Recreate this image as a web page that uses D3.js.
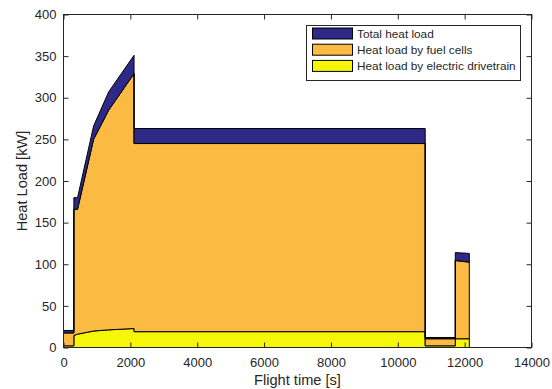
<!DOCTYPE html>
<html><head><meta charset="utf-8">
<script src="https://cdn.jsdelivr.net/npm/d3@7"></script>
<style>
body{margin:0;background:#fff}
text{font-family:"Liberation Sans",Arial,Helvetica,sans-serif;fill:#262626}
</style>
</head><body><svg id="c" width="552" height="389"></svg>
<script>
// Flight time [s] (duplicated instants give the vertical steps)
const time       = [0,    310,  310,   420,   900,   1350,  2110,  2110,  10820, 10820, 11720, 11720, 12140];
// Heat load by electric drivetrain [kW]
const drivetrain = [2,    2,    14.5,  16,    19.8,  21.2,  22.8,  19,    19,    2,     2,     10.5,  10.5];
// Heat load by fuel cells [kW]
const fuelCells  = [15.5, 15.5, 151.5, 150,   230.2, 263.8, 306.2, 226,   226,   8.5,   8.5,   94,    92];
// Total heat load [kW]
const totalLoad  = [20.5, 20.5, 180,   180,   266,   307,   351,   263,   263,   12,    12,    114,   113];

const xTicks = [0,2000,4000,6000,8000,10000,12000,14000];
const yTicks = [0,50,100,150,200,250,300,350,400];
const legendLabels = ["Total heat load","Heat load by fuel cells","Heat load by electric drivetrain"];
const layerColors  = ["#2E2986","#FBBA42","#F6F608"];

const svg = d3.select("#c");
const L = 63.5, R = 531.5, T = 14.5, B = 347.5;
const x = d3.scaleLinear().domain([0,14000]).range([L,R]);
const y = d3.scaleLinear().domain([0,400]).range([B,T]);

// stacked layers: drivetrain, fuel cells on top, remainder up to total
const rows = time.map((t,i)=>({t, dt:drivetrain[i], fc:drivetrain[i]+fuelCells[i], tot:totalLoad[i]}));
const layers = [
  {lo:d=>0,     hi:d=>d.dt,  color:layerColors[2]},
  {lo:d=>d.dt,  hi:d=>d.fc,  color:layerColors[1]},
  {lo:d=>d.fc,  hi:d=>d.tot, color:layerColors[0]}
];
layers.forEach(Ly=>{
  const area = d3.area().x(d=>x(d.t)).y0(d=>y(Ly.lo(d))).y1(d=>y(Ly.hi(d)));
  svg.append("path").attr("d",area(rows)).attr("fill",Ly.color)
     .attr("stroke","#000").attr("stroke-width",1).attr("stroke-linejoin","miter");
});

// axes
const tk = 5;
const gx = svg.append("g").attr("transform",`translate(0,${B})`)
  .call(d3.axisBottom(x).tickValues(xTicks).tickFormat(d3.format("d")).tickSizeInner(-tk).tickSizeOuter(0).tickPadding(10));
const gxt = svg.append("g").attr("transform",`translate(0,${T})`)
  .call(d3.axisTop(x).tickValues(xTicks).tickFormat("").tickSizeInner(-tk).tickSizeOuter(0));
const gy = svg.append("g").attr("transform",`translate(${L},0)`)
  .call(d3.axisLeft(y).tickValues(yTicks).tickFormat(d3.format("d")).tickSizeInner(-tk).tickSizeOuter(0).tickPadding(7));
const gyr = svg.append("g").attr("transform",`translate(${R},0)`)
  .call(d3.axisRight(y).tickValues(yTicks).tickFormat("").tickSizeInner(-tk).tickSizeOuter(0));
[gx,gxt,gy,gyr].forEach(g=>{
  g.select(".domain").remove();
  g.selectAll(".tick line").attr("stroke","#262626");
  g.selectAll("text").attr("font-size","13px").attr("fill","#262626")
   .attr("font-family","'Liberation Sans',Arial,sans-serif");
});
svg.append("rect").attr("x",L).attr("y",T).attr("width",R-L).attr("height",B-T)
  .attr("fill","none").attr("stroke","#262626").attr("stroke-width",1);

// axis labels
svg.append("text").attr("x",(L+R)/2).attr("y",385).attr("text-anchor","middle")
  .attr("font-size","14.6px").text("Flight time [s]");
svg.append("text").attr("transform",`translate(27,${(T+B)/2}) rotate(-90)`).attr("text-anchor","middle")
  .attr("font-size","14.6px").text("Heat Load [kW]");

// legend
const lg = svg.append("g");
lg.append("rect").attr("x",306.5).attr("y",25.5).attr("width",214).attr("height",55)
  .attr("fill","#fff").attr("stroke","#262626").attr("stroke-width",1);
legendLabels.forEach((lab,i)=>{
  const cy = 33.5 + i*16.2;
  lg.append("rect").attr("x",312.5).attr("y",cy-5.5).attr("width",40).attr("height",11)
    .attr("fill",layerColors[i]).attr("stroke","#000").attr("stroke-width",1);
  lg.append("text").attr("x",357).attr("y",cy+4.3).attr("font-size","11.8px").text(lab);
});
</script>
</body></html>
